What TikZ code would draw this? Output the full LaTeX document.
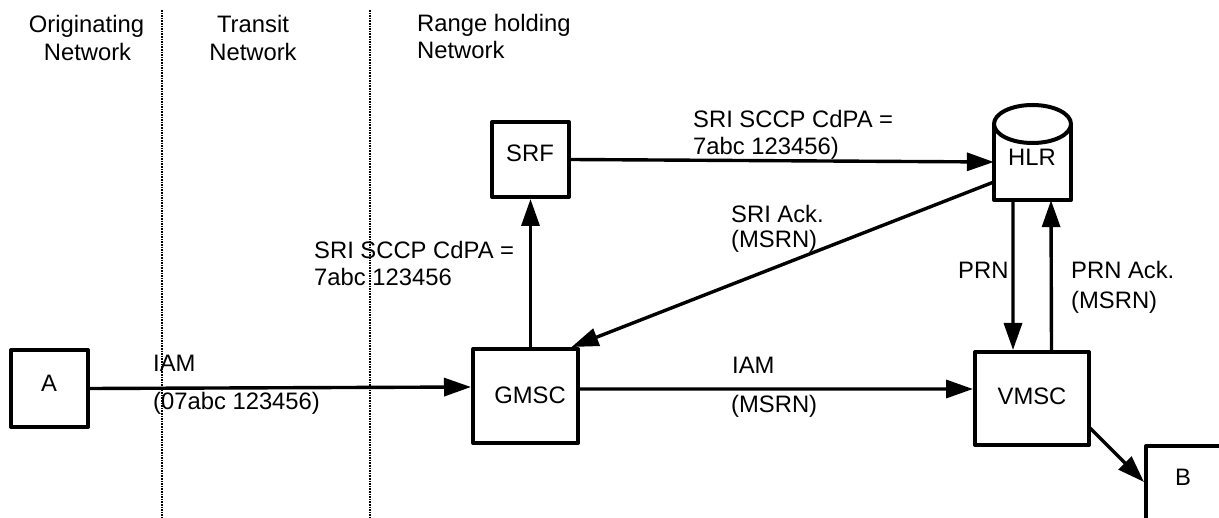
\documentclass[tikz,border=0pt]{standalone}
\usepackage{fontspec}
\setmainfont{Liberation Sans}
\usetikzlibrary{arrows.meta,calc}
\tikzset{
  boxnode/.style={draw=black,line width=4bp,line join=round,inner sep=0pt,minimum width=#1,font=\labelfont},
  conn/.style={line width=3.4bp,-{Triangle[length=27bp,width=18bp]},shorten >=0pt},
  netline/.style={line width=2bp,dash pattern=on 1.6bp off 1bp},
  lbl/.style={inner sep=0pt,anchor=base west,font=\labelfont},
  lblc/.style={inner sep=0pt,anchor=base,font=\labelfont}
}
\newcommand{\labelfont}{\fontsize{23.8bp}{27bp}\selectfont}
\begin{document}
\begin{tikzpicture}[x=1bp,y=-1bp]
\useasboundingbox (0,0) rectangle (1219,518);
\clip (0,0) rectangle (1219,518);
% network separators
\coordinate (s1t) at (162,10); \coordinate (s1b) at (162,518);
\coordinate (s2t) at (370,10); \coordinate (s2b) at (370,518);
\draw[netline] (s1t) -- (s1b);
\draw[netline] (s2t) -- (s2b);
% boxes
\node[boxnode=77bp,minimum height=77bp] (A) at (49.5,388.5) {};
\node[boxnode=105bp,minimum height=94bp] (GMSC) at (525.5,396) {};
\node[boxnode=77bp,minimum height=75bp] (SRF) at (530.5,159.5) {};
\node[boxnode=114bp,minimum height=93bp] (VMSC) at (1032,398.5) {};
\node[boxnode=77bp,minimum height=77bp] (B) at (1184.5,484.5) {};
% HLR
\node[inner sep=0pt,minimum width=77bp,minimum height=95bp] (HLR) at (1032.5,152.5) {};
\draw[line width=4bp,line join=round,fill=white] (994,124) -- (994,200) -- (1071,200) -- (1071,124);
\draw[line width=4bp] (1032.5,124) ellipse [x radius=38.5, y radius=19];
% connectors
\draw[conn] (A.east) -- ([yshift=9bp]GMSC.west);
\draw[conn] ([yshift=7bp]GMSC.east) -- ([yshift=9.5bp]VMSC.west);
\draw[conn] (GMSC.north -| SRF.south) -- (SRF.south);
\draw[conn] (SRF.east) -- ([yshift=-9.5bp]HLR.west);
\draw[conn] ([yshift=-29.5bp]HLR.west) -- ([xshift=46bp]GMSC.north);
\draw[conn] ([xshift=-19.5bp]HLR.south) -- ([xshift=-19bp]VMSC.north);
\draw[conn] ([xshift=19.5bp]VMSC.north) -- ([xshift=18.5bp]HLR.south);
\coordinate (bs) at (1090,428);
\draw[conn] (bs) -- ([yshift=2.5bp]B.west);
% box labels
\node[lblc] (tA) at (49,391) {A};
\node[lblc] (tGMSC) at (530,403) {GMSC};
\node[lblc] (tSRF) at (530,162) {SRF};
\node[lblc] (tHLR) at (1032,166) {HLR};
\node[lblc] (tVMSC) at (1032,404) {VMSC};
\node[lblc] (tB) at (1183,485) {B};
% headers
\node[lblc] (h1a) at (86.5,33) {Originating};
\node[lblc] (h1b) at (87.5,61) {Network};
\node[lblc] (h2a) at (253,33) {Transit};
\node[lblc] (h2b) at (253,61) {Network};
\node[lbl] (h3a) at (417,32) {Range holding};
\node[lbl] (h3b) at (417,59) {Network};
% message labels
\node[lbl] (m1) at (153,372) {IAM};
\node[lbl] (m2) at (153,409) {(07abc 123456)};
\node[lbl] (m3) at (732,374) {IAM};
\node[lbl] (m4) at (731,412) {(MSRN)};
\node[lbl] (m5) at (314,259) {SRI SCCP CdPA =};
\node[lbl] (m6) at (314,286) {7abc 123456};
\node[lbl] (m7) at (693,128) {SRI SCCP CdPA =};
\node[lbl] (m8) at (693,155) {7abc 123456)};
\node[lbl] (m9) at (731,223) {SRI Ack.};
\node[lbl] (m10) at (731,248) {(MSRN)};
\node[lbl] (m11) at (958,279) {PRN};
\node[lbl] (m12) at (1071,279) {PRN Ack.};
\node[lbl] (m13) at (1071,309) {(MSRN)};
\end{tikzpicture}
\end{document}
